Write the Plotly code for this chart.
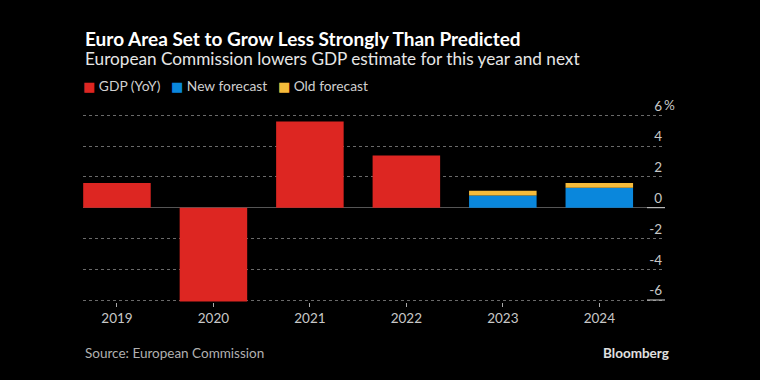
import plotly.graph_objects as go

years = ["2019", "2020", "2021", "2022", "2023", "2024"]
gdp_yoy = [1.6, -6.1, 5.6, 3.4, None, None]
new_forecast = [None, None, None, None, 0.8, 1.3]
old_forecast = [None, None, None, None, 1.1, 1.6]
ytick_vals = [-6, -4, -2, 0, 2, 4, 6]
ytick_text = ["-6", "-4", "-2", "0", "2", "4", "6"]
series_names = ["GDP (YoY)", "New forecast", "Old forecast"]

old_extra = [None if (o is None or n is None) else round(o - n, 2)
             for o, n in zip(old_forecast, new_forecast)]

RED = "#dd2622"
BLUE = "#0a87dc"
YELLOW = "#f6bb3a"
COLORS = [RED, BLUE, YELLOW]
FONT = "Lato"

fig = go.Figure()
fig.add_trace(go.Bar(x=years, y=gdp_yoy, name=series_names[0], marker_color=RED,
                     marker_line_width=0))
fig.add_trace(go.Bar(x=years, y=new_forecast, name=series_names[1], marker_color=BLUE,
                     marker_line_width=0))
fig.add_trace(go.Bar(x=years, y=old_extra, name=series_names[2], marker_color=YELLOW,
                     marker_line_width=0, customdata=old_forecast,
                     hovertemplate="%{x}: %{customdata}<extra>Old forecast</extra>"))

Y0, Y1 = -6.13, 7.0
unit = 15.37
zero_px = 208.0
top_px = zero_px - Y1 * unit
bot_px = zero_px - Y0 * unit
left_px, right_px = 83.0, 665.0
H = bot_px - top_px
W = right_px - left_px

def py(p):
    return (bot_px - p) / H

def px(p):
    return (p - left_px) / W

fig.update_layout(
    width=760, height=380,
    margin=dict(l=left_px, r=760 - right_px, t=top_px, b=380 - bot_px, pad=0),
    paper_bgcolor="#000000", plot_bgcolor="#000000",
    barmode="relative", bargap=0.3,
    font=dict(family=FONT, color="#cccccc", size=13),
    showlegend=False,
    xaxis=dict(type="category", range=[-0.352, 5.681], showgrid=False, zeroline=False,
               ticks="outside", ticklen=4, tickcolor="#aaaaaa", tickwidth=1,
               tickfont=dict(size=13.5, color="#c8c8c8", family=FONT),
               showline=False, fixedrange=True),
    yaxis=dict(side="right", range=[Y0, Y1], tickvals=ytick_vals, ticktext=ytick_text,
               ticklabelposition="inside top", ticklabeloverflow="allow",
               ticks="", showline=False,
               showgrid=True, gridcolor="#6a6a6a", griddash="dot", gridwidth=1,
               zeroline=True, zerolinecolor="#555555", zerolinewidth=1,
               tickfont=dict(size=13.5, color="#c8c8c8", family=FONT), fixedrange=True),
)

# short right-edge markers
for yv in [0, -6]:
    fig.add_shape(type="line", xref="paper", yref="y", x0=px(647), x1=1.0, y0=yv, y1=yv,
                  line=dict(color="#cfcfcf", width=1))

fig.add_annotation(text="%", xref="paper", yref="y", x=1.0, y=6, xanchor="left",
                   yanchor="middle", showarrow=False, yshift=10, xshift=-3,
                   font=dict(size=13.5, color="#c8c8c8", family=FONT))

fig.add_annotation(text="<b>Euro Area Set to Grow Less Strongly Than Predicted</b>",
                   xref="paper", yref="paper", x=0, y=py(39), xanchor="left", yanchor="middle",
                   showarrow=False, font=dict(size=19, color="#ffffff", family=FONT))
fig.add_annotation(text="European Commission lowers GDP estimate for this year and next",
                   xref="paper", yref="paper", x=0, y=py(59), xanchor="left", yanchor="middle",
                   showarrow=False, font=dict(size=17.2, color="#e6e6e6", family=FONT))

legend_parts = []
for name, col in zip(series_names, COLORS):
    legend_parts.append(
        f'<span style="font-family:DejaVu Sans;font-size:13px;color:{col}">■</span>'
        f' {name}')
fig.add_annotation(text="   ".join(legend_parts),
                   xref="paper", yref="paper", x=0, y=py(86), xanchor="left", yanchor="middle",
                   showarrow=False, xshift=-2,
                   font=dict(size=13.8, color="#d0d0d0", family=FONT))

fig.add_annotation(text="Source: European Commission",
                   xref="paper", yref="paper", x=0, y=py(353), xanchor="left", yanchor="middle",
                   showarrow=False, font=dict(size=13.5, color="#b0b0b0", family=FONT))
fig.add_annotation(text="<b>Bloomberg</b>",
                   xref="paper", yref="paper", x=px(671), y=py(353), xanchor="right", yanchor="middle",
                   showarrow=False, font=dict(size=13.5, color="#e0e0e0", family=FONT))

fig.write_html("out.html", config={"displayModeBar": False},
               post_script="document.body.style.margin='0';document.body.style.background='#000';")
